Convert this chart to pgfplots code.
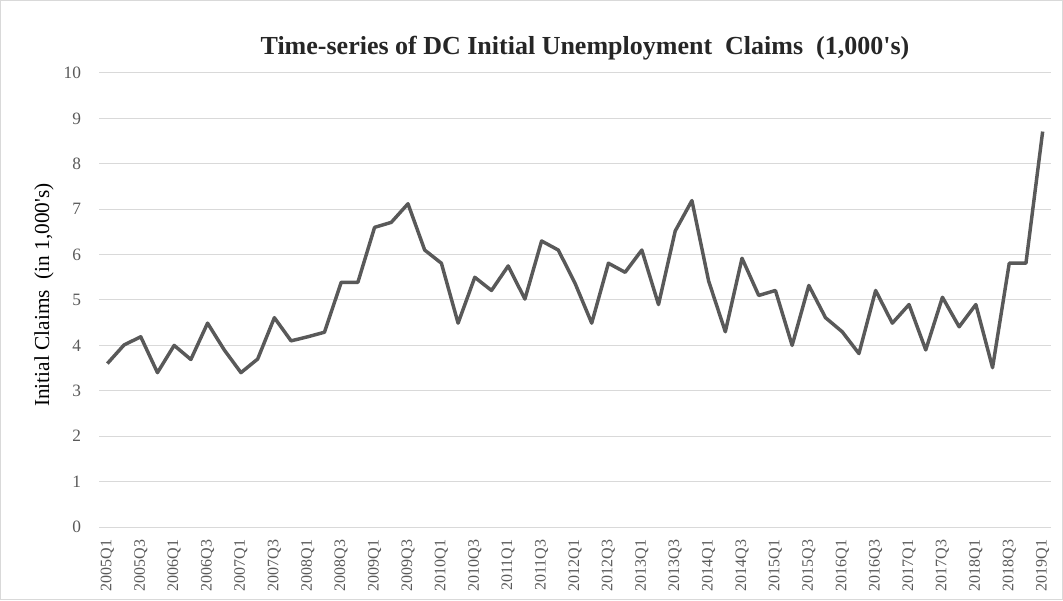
\documentclass[border=0pt]{standalone}
\usepackage{pgfplots}
\pgfplotsset{compat=1.18}
\usepackage{fontspec}
\setmainfont{Liberation Serif}
\definecolor{linec}{HTML}{595959}
\definecolor{gridc}{HTML}{D9D9D9}
\definecolor{tickc}{HTML}{595959}
\begin{document}
\begin{tikzpicture}[x=1pt,y=1pt]
\useasboundingbox (0,0) rectangle (797.25,450);
\draw[gridc, line width=0.75pt] (0.4,0.4) rectangle (796.85,449.6);
\begin{axis}[
  at={(74.25pt,54.75pt)}, anchor=south west,
  scale only axis, width=714pt, height=340.5pt,
  xmin=-0.5, xmax=56.5, ymin=0, ymax=10,
  ytick={0,1,...,10},
  xtick={0,2,...,56},
  xticklabels={2005Q1,2005Q3,2006Q1,2006Q3,2007Q1,2007Q3,2008Q1,2008Q3,2009Q1,2009Q3,2010Q1,2010Q3,2011Q1,2011Q3,2012Q1,2012Q3,2013Q1,2013Q3,2014Q1,2014Q3,2015Q1,2015Q3,2016Q1,2016Q3,2017Q1,2017Q3,2018Q1,2018Q3,2019Q1},
  x tick label style={rotate=90, anchor=east, font=\fontsize{12}{14}\selectfont, text=tickc},
  y tick label style={font=\fontsize{13}{15}\selectfont, text=tickc},
  /pgf/number format/assume math mode=true,
  ymajorgrids, major grid style={gridc, line width=0.75pt},
  axis line style={draw=none},
  axis x line*=bottom, axis y line*=left,
  x axis line style={gridc, line width=0.75pt},
  major tick length=0pt,
  xticklabel shift=6pt, yticklabel shift=10pt,
  clip=false,
]
\addplot[linec, line width=2.6pt, line join=round] coordinates {
(0,3.60)(1,4.01)(2,4.19)(3,3.40)(4,4.00)(5,3.69)(6,4.49)(7,3.90)(8,3.40)(9,3.70)
(10,4.61)(11,4.10)(12,4.19)(13,4.29)(14,5.39)(15,5.39)(16,6.60)(17,6.71)(18,7.12)(19,6.10)
(20,5.81)(21,4.49)(22,5.50)(23,5.21)(24,5.75)(25,5.02)(26,6.30)(27,6.10)(28,5.37)(29,4.49)
(30,5.81)(31,5.61)(32,6.10)(33,4.90)(34,6.52)(35,7.19)(36,5.42)(37,4.30)(38,5.92)(39,5.10)
(40,5.21)(41,4.00)(42,5.32)(43,4.61)(44,4.30)(45,3.82)(46,5.21)(47,4.49)(48,4.90)(49,3.90)
(50,5.06)(51,4.41)(52,4.90)(53,3.51)(54,5.81)(55,5.81)(56,8.71)
};
\end{axis}
\node[anchor=base, font=\fontsize{19.5}{22}\selectfont\bfseries, text=black!85] at (438.75,408.75) {Time-series of DC Initial Unemployment\ \ Claims\ \ (1,000\textquotesingle s)};
\node[rotate=90, font=\fontsize{16}{18}\selectfont] at (33,228.75) {Initial Claims\ \ (in 1,000\textquotesingle s)};
\end{tikzpicture}
\end{document}
